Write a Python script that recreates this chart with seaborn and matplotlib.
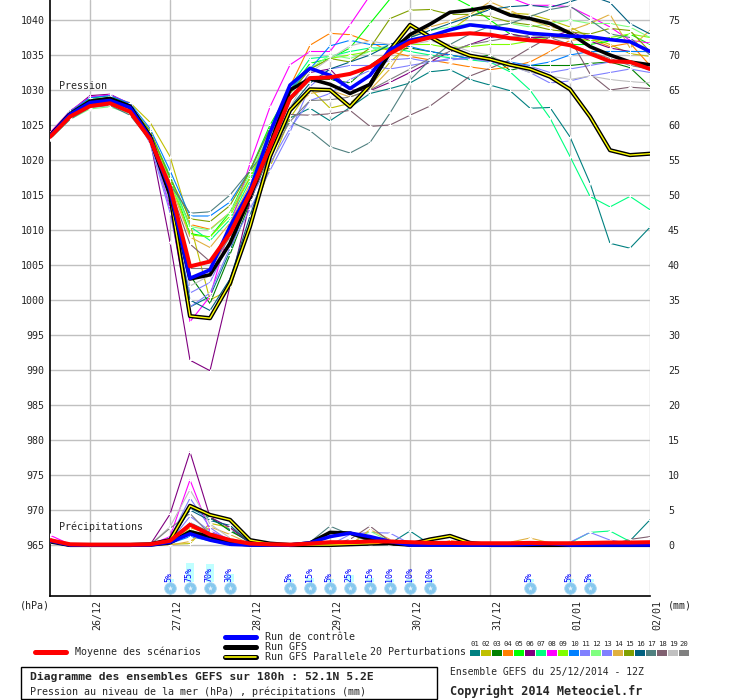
import matplotlib
matplotlib.use("Agg")
import matplotlib.pyplot as plt
import matplotlib.transforms as mtransforms
from matplotlib.lines import Line2D
from matplotlib.patches import Rectangle
import seaborn as sns

# ---------------- data ----------------
hours = list(range(0, 181, 6))  # 31 steps, 25/12 12Z -> 02/01 00Z
day_hours = [12, 36, 60, 84, 108, 132, 156, 180]
day_labels = ["26/12", "27/12", "28/12", "29/12", "30/12", "31/12", "01/01", "02/01"]
pressure_ticks = [965, 970, 975, 980, 985, 990, 995, 1000, 1005, 1010, 1015, 1020,
                  1025, 1030, 1035, 1040]
precip_ticks = [0, 5, 10, 15, 20, 25, 30, 35, 40, 45, 50, 55, 60, 65, 70, 75]

pert_labels = ["01", "02", "03", "04", "05", "06", "07", "08", "09", "10",
               "11", "12", "13", "14", "15", "16", "17", "18", "19", "20"]
pert_colors = ["#008080", "#C0C000", "#008000", "#FF8000", "#00FF00", "#800080",
               "#00FF80", "#FF00FF", "#80FF00", "#0080FF", "#8080FF", "#80FF80",
               "#8080FF", "#E0B040", "#80A000", "#006080", "#508080", "#806070",
               "#C0C0C0", "#808080"]

# pressure (hPa)
mean_p = [1023.3, 1026.2, 1027.7, 1028.1, 1026.9, 1023.0, 1016.2, 1004.8, 1005.5, 1009.5,
          1015.2, 1021.9, 1028.8, 1031.7, 1031.8, 1032.3, 1033.3, 1035.2, 1036.8, 1037.5,
          1037.9, 1038.1, 1037.9, 1037.4, 1037.1, 1036.9, 1036.4, 1035.2, 1034.1, 1034.0, 1033.0]
ctrl_p = [1023.4, 1026.5, 1028.2, 1028.5, 1027.5, 1023.2, 1015.7, 1003.1, 1004.3, 1010.5,
          1015.7, 1023.9, 1030.7, 1033.1, 1032.1, 1030.2, 1032.1, 1035.8, 1037.1, 1037.7,
          1038.6, 1039.3, 1039.0, 1038.6, 1038.1, 1037.9, 1037.7, 1037.6, 1037.2, 1036.9, 1035.5]
gfs_p = [1023.5, 1026.6, 1028.4, 1028.8, 1027.7, 1023.2, 1015.2, 1003.0, 1003.6, 1008.1,
         1014.7, 1022.2, 1030.0, 1031.6, 1030.8, 1029.5, 1030.8, 1035.3, 1037.9, 1039.4,
         1041.1, 1041.4, 1041.9, 1040.7, 1040.2, 1039.5, 1038.1, 1036.2, 1035.0, 1034.0, 1033.6]
gfsp_p = [1023.4, 1026.4, 1028.2, 1028.6, 1027.6, 1023.4, 1015.0, 997.7, 997.4, 1002.4,
          1010.5, 1020.5, 1027.1, 1030.1, 1030.0, 1027.6, 1030.7, 1035.7, 1039.3, 1037.6,
          1036.0, 1034.9, 1034.4, 1033.6, 1033.0, 1031.9, 1030.1, 1026.2, 1021.4, 1020.7, 1020.9]

p01 = [1023.6, 1026.8, 1028.6, 1028.9, 1027.8, 1023.8, 1016.0, 999.0, 1000.5, 1007.0,
       1015.0, 1021.0, 1026.0, 1027.4, 1025.6, 1027.5, 1029.5, 1030.2, 1031.0, 1032.6,
       1032.9, 1031.5, 1030.7, 1029.9, 1027.4, 1027.5, 1023.3, 1016.7, 1008.1, 1007.4, 1010.4]
p02 = [1023.4, 1026.6, 1028.5, 1028.9, 1028.2, 1025.4, 1020.5, 1011.0, 1000.0, 1001.5,
       1011.0, 1019.0, 1026.0, 1030.2, 1027.4, 1028.1, 1030.5, 1034.0, 1036.5, 1037.5,
       1038.5, 1040.5, 1041.8, 1041.0, 1040.8, 1040.0, 1039.0, 1037.5, 1036.5, 1035.2, 1034.8]
p03 = [1023.5, 1026.7, 1028.5, 1028.8, 1027.6, 1023.0, 1015.0, 1003.5, 999.5, 1006.5,
       1014.0, 1021.0, 1028.5, 1031.5, 1031.5, 1031.0, 1033.5, 1035.5, 1036.0, 1035.5,
       1035.0, 1034.5, 1035.0, 1032.8, 1033.5, 1033.5, 1033.5, 1033.8, 1034.0, 1033.2, 1030.5]
p04 = [1023.3, 1026.4, 1028.2, 1028.5, 1027.4, 1023.6, 1017.0, 1010.8, 1010.1, 1012.5,
       1017.5, 1023.0, 1030.5, 1036.4, 1038.1, 1037.9, 1036.9, 1035.5, 1034.8, 1034.3,
       1033.8, 1033.3, 1032.9, 1033.3, 1034.0, 1035.5, 1037.1, 1037.3, 1036.2, 1036.7, 1033.5]
p05 = [1023.8, 1027.0, 1028.8, 1029.2, 1028.0, 1023.8, 1017.5, 1009.5, 1009.0, 1012.5,
       1018.5, 1025.0, 1030.0, 1033.8, 1034.5, 1036.0, 1039.5, 1043.0, 1044.5, 1044.0,
       1043.5, 1042.0, 1040.0, 1038.0, 1037.5, 1037.0, 1036.5, 1036.5, 1037.0, 1038.0, 1036.5]
p06 = [1023.5, 1026.9, 1029.2, 1029.4, 1028.0, 1023.0, 1008.3, 991.4, 989.9, 1002.0,
       1014.0, 1021.5, 1028.5, 1032.5, 1033.0, 1030.0, 1029.9, 1031.1, 1032.5, 1034.0,
       1035.5, 1036.5, 1037.5, 1038.0, 1037.5, 1037.5, 1038.5, 1037.0, 1036.0, 1035.5, 1035.5]
p07 = [1023.6, 1026.8, 1028.6, 1028.9, 1027.9, 1024.0, 1017.8, 1010.5, 1008.5, 1011.5,
       1017.0, 1023.5, 1030.5, 1034.5, 1034.8, 1035.5, 1036.0, 1036.0, 1035.5, 1035.0,
       1034.6, 1034.3, 1034.0, 1032.6, 1030.0, 1026.0, 1020.5, 1014.8, 1013.3, 1014.8, 1012.9]
p08 = [1023.9, 1027.0, 1029.0, 1029.3, 1028.1, 1023.2, 1013.0, 996.9, 1000.5, 1010.5,
       1019.5, 1027.6, 1033.6, 1035.5, 1035.5, 1039.3, 1043.5, 1046.0, 1048.0, 1049.0,
       1048.0, 1046.0, 1044.5, 1043.2, 1042.1, 1042.1, 1041.9, 1040.5, 1039.0, 1037.1, 1036.7]
p09 = [1023.5, 1026.6, 1028.4, 1028.7, 1027.7, 1023.9, 1017.0, 1009.3, 1009.0, 1012.0,
       1017.5, 1024.0, 1030.0, 1033.0, 1034.5, 1035.0, 1035.5, 1036.0, 1036.5, 1036.5,
       1036.0, 1036.2, 1036.5, 1036.5, 1037.0, 1037.5, 1037.5, 1037.0, 1037.5, 1038.0, 1037.5]
p10 = [1023.7, 1026.9, 1028.9, 1029.2, 1028.1, 1024.5, 1018.5, 1012.0, 1012.0, 1014.0,
       1018.5, 1024.5, 1030.0, 1033.0, 1036.3, 1037.1, 1036.5, 1036.5, 1036.2, 1035.5,
       1035.0, 1034.5, 1034.3, 1034.0, 1033.5, 1034.0, 1035.0, 1035.5, 1035.5, 1035.5, 1035.5]
p11 = [1023.2, 1026.3, 1028.0, 1028.3, 1027.0, 1022.6, 1013.5, 1001.0, 1002.5, 1008.5,
       1014.5, 1019.5, 1024.5, 1028.5, 1029.5, 1031.5, 1032.8, 1034.3, 1034.5, 1034.0,
       1034.3, 1034.5, 1034.3, 1033.8, 1033.4, 1032.5, 1033.0, 1033.5, 1034.0, 1034.0, 1032.8]
p12 = [1023.0, 1025.8, 1027.3, 1027.6, 1026.6, 1023.5, 1017.0, 1010.5, 1010.0, 1012.5,
       1018.0, 1024.0, 1029.5, 1033.0, 1035.0, 1034.5, 1035.5, 1036.5, 1037.5, 1038.5,
       1039.0, 1039.5, 1039.0, 1039.5, 1039.0, 1039.5, 1040.0, 1039.5, 1039.5, 1039.0, 1037.5]
p13 = [1023.4, 1026.5, 1028.6, 1028.9, 1027.4, 1022.4, 1012.5, 999.0, 1001.0, 1007.5,
       1013.0, 1018.5, 1024.0, 1030.5, 1033.0, 1033.5, 1033.5, 1033.0, 1033.5, 1034.0,
       1034.5, 1034.5, 1034.0, 1033.5, 1032.5, 1031.0, 1031.3, 1032.0, 1032.5, 1033.0, 1032.5]
p14 = [1023.3, 1026.4, 1028.3, 1028.7, 1027.7, 1023.7, 1016.5, 1009.0, 1007.5, 1011.0,
       1016.5, 1021.5, 1027.0, 1029.5, 1030.0, 1029.0, 1030.0, 1033.0, 1037.5, 1039.0,
       1039.8, 1040.8, 1042.6, 1041.4, 1040.0, 1039.0, 1038.5, 1039.5, 1040.8, 1036.0, 1038.5]
p15 = [1023.6, 1026.8, 1028.6, 1028.8, 1027.8, 1024.2, 1017.5, 1011.6, 1011.2, 1013.5,
       1018.5, 1024.5, 1029.5, 1033.0, 1034.5, 1034.0, 1036.0, 1040.2, 1041.4, 1041.5,
       1040.8, 1040.8, 1040.5, 1039.7, 1039.3, 1038.6, 1038.3, 1038.0, 1038.8, 1038.5, 1035.5]
p16 = [1023.4, 1026.6, 1028.4, 1028.8, 1027.6, 1023.4, 1015.0, 1000.0, 998.5, 1003.0,
       1012.0, 1020.5, 1027.5, 1031.0, 1033.0, 1034.0, 1035.0, 1036.5, 1037.5, 1038.5,
       1039.5, 1040.5, 1041.5, 1041.9, 1042.1, 1041.8, 1042.6, 1043.5, 1042.5, 1039.5, 1038.0]
p17 = [1023.0, 1025.8, 1027.5, 1027.8, 1026.4, 1022.8, 1016.5, 1012.4, 1012.6, 1015.0,
       1018.5, 1022.0, 1025.5, 1024.2, 1021.9, 1021.0, 1022.5, 1026.7, 1031.4, 1034.3,
       1036.5, 1038.0, 1039.1, 1039.5, 1040.5, 1041.5, 1042.0, 1040.0, 1038.0, 1037.5, 1035.0]
p18 = [1023.4, 1026.5, 1028.2, 1028.5, 1027.3, 1023.5, 1016.0, 1008.0, 1005.5, 1009.5,
       1015.5, 1021.5, 1026.5, 1026.4, 1026.6, 1027.1, 1024.8, 1025.0, 1026.4, 1027.7,
       1029.8, 1032.0, 1033.1, 1034.3, 1036.0, 1037.6, 1037.3, 1032.3, 1030.0, 1030.4, 1030.2]
p19 = [1023.3, 1026.2, 1027.8, 1028.0, 1026.9, 1022.8, 1014.5, 1002.0, 1003.5, 1009.5,
       1015.0, 1021.5, 1027.5, 1032.5, 1034.5, 1036.3, 1037.0, 1036.5, 1036.5, 1037.0,
       1036.5, 1035.5, 1035.0, 1033.5, 1032.5, 1032.0, 1031.5, 1032.0, 1031.5, 1031.2, 1031.0]
p20 = [1023.2, 1026.0, 1027.6, 1027.9, 1026.7, 1023.0, 1015.5, 1004.5, 1004.5, 1009.0,
       1015.0, 1020.5, 1025.5, 1028.5, 1028.6, 1029.0, 1030.0, 1031.5, 1033.0, 1034.5,
       1035.5, 1036.5, 1037.0, 1037.5, 1037.8, 1037.5, 1036.5, 1035.5, 1034.5, 1033.5, 1033.0]
pert_p = [p01, p02, p03, p04, p05, p06, p07, p08, p09, p10,
          p11, p12, p13, p14, p15, p16, p17, p18, p19, p20]

# precipitation (mm)
mean_r = [0.7, 0.1, 0.05, 0.05, 0.05, 0.1, 0.6, 2.9, 1.5, 0.7, 0.2, 0.1, 0.05, 0.2, 0.4, 0.4,
          0.5, 0.5, 0.4, 0.3, 0.3, 0.25, 0.25, 0.25, 0.3, 0.25, 0.25, 0.3, 0.35, 0.35, 0.4]
ctrl_r = [0.6, 0, 0, 0, 0, 0, 0.4, 1.6, 0.7, 0.1, 0, 0, 0, 0.3, 1.2, 1.7, 1.2, 0.5, 0, 0,
          0, 0, 0, 0, 0.1, 0.2, 0, 0, 0, 0, 0]
gfs_r = [0.6, 0, 0, 0, 0, 0, 0.3, 1.9, 1.2, 0.3, 0, 0, 0, 0.3, 1.8, 1.7, 0.8, 0.2, 0, 0,
         0, 0, 0, 0, 0, 0, 0, 0, 0, 0, 0]
gfsp_r = [0.5, 0, 0, 0, 0, 0.1, 0.7, 5.6, 4.3, 3.6, 0.7, 0.2, 0, 0, 0, 0.1, 0.2, 0.3, 0.1,
          0.8, 1.3, 0.3, 0, 0, 0, 0, 0, 0, 0, 0, 0]
r01 = [0.8, 0, 0, 0, 0, 0, 0.6, 5.3, 3.8, 2.2, 0.3, 0, 0, 0, 0, 0, 0, 0.2, 2.0, 0.1,
       0, 0, 0, 0, 0, 0, 0, 0, 0, 0.6, 3.6]
r02 = [0.7, 0, 0, 0, 0, 0, 0.1, 0.2, 3.1, 2.5, 0.5, 0, 0, 0, 0, 0, 0, 0, 0, 0,
       0, 0, 0, 0, 0, 0, 0, 0, 0, 0, 0]
r03 = [0.9, 0, 0, 0, 0, 0, 0.5, 5.6, 4.0, 2.0, 0.5, 0, 0, 0, 0, 0, 0, 0, 0, 0.3,
       0.3, 0.3, 0, 0, 0, 0, 0, 0, 0, 0, 0]
r04 = [0.6, 0, 0, 0, 0, 0, 0.3, 2.5, 1.5, 0.4, 0, 0, 0, 0, 0, 0, 0, 0, 0, 0,
       0.6, 0.4, 0, 0, 0, 0, 0, 0, 0, 0, 0]
r05 = [0.8, 0, 0, 0, 0, 0, 0.4, 3.0, 1.2, 0.2, 0, 0, 0, 0, 0, 0, 0, 0, 0, 0,
       0, 0, 0, 0, 0, 0, 0, 0, 0, 0, 0]
r06 = [0.7, 0, 0, 0, 0, 0, 4.4, 13.3, 4.0, 2.5, 0.3, 0, 0, 0, 0, 0, 0, 0, 0, 0,
       0, 0, 0, 0, 0, 0, 0, 0, 0, 0, 0]
r07 = [0.6, 0, 0, 0, 0, 0, 0.2, 2.0, 1.0, 0.2, 0, 0, 0, 0, 0, 0, 0, 0, 0, 0,
       0, 0, 0, 0, 0, 0, 0.3, 1.8, 2.0, 0.5, 0]
r08 = [1.4, 0.1, 0, 0, 0, 0, 1.2, 9.3, 2.0, 0.8, 0, 0, 0, 0, 0, 0, 0, 0, 0, 0,
       0, 0, 0, 0, 0, 0, 0, 0, 0, 0, 0]
r09 = [0.6, 0, 0, 0, 0, 0, 0.3, 2.2, 1.0, 0.2, 0, 0, 0, 0, 0, 0, 0, 0, 0, 0,
       0, 0, 0, 0, 0, 0, 0, 0, 0, 0, 0]
r10 = [0.5, 0, 0, 0, 0, 0, 0.2, 1.2, 0.6, 0, 0, 0, 0, 0, 0, 0, 0, 0, 0, 0,
       0, 0, 0, 0, 0, 0, 0, 0, 0, 0, 0]
r11 = [0.6, 0, 0, 0, 0, 0, 1.0, 6.7, 2.5, 0.5, 0, 0, 0, 0, 0, 1.5, 1.8, 1.7, 0.2, 0,
       0, 0, 0, 0, 0, 0, 0.4, 1.8, 0.7, 0.2, 0]
r12 = [0.6, 0, 0, 0, 0, 0, 0.3, 1.5, 0.7, 0, 0, 0, 0, 0, 0, 0, 2.0, 0.5, 0, 0,
       0, 0, 0, 0, 0, 0, 0, 0, 0, 0, 0]
r13 = [0.5, 0, 0, 0, 0, 0, 0.5, 4.1, 2.0, 0.6, 0, 0, 0, 0, 0, 0, 0, 0, 0, 0,
       0, 0, 0, 0, 0, 0, 0, 0, 0, 0, 0]
r14 = [0.6, 0, 0, 0, 0, 0, 0, 0.5, 2.6, 1.5, 0.2, 0, 0, 0, 0, 0, 2.2, 0.8, 0, 0,
       0, 0, 0, 0.4, 1.0, 0.3, 0, 0, 0, 0, 0]
r15 = [0.7, 0, 0, 0, 0, 0, 0.4, 2.8, 1.8, 0.3, 0, 0, 0, 0, 0, 0, 0, 0, 0, 0,
       0, 0, 0, 0, 0, 0, 0, 0, 0, 0, 0]
r16 = [0.7, 0, 0, 0, 0, 0, 0.6, 5.0, 3.5, 2.8, 0.3, 0, 0, 0, 0, 0, 0, 0, 0, 0,
       0, 0, 0, 0, 0, 0, 0, 0, 0, 0, 0]
r17 = [0.8, 0, 0, 0, 0, 0, 0.5, 3.2, 1.8, 0.5, 0, 0, 0, 0.4, 2.7, 1.5, 0.5, 0, 0, 0,
       0, 0, 0, 0, 0, 0, 0, 0, 0, 0, 0]
r18 = [0.7, 0, 0, 0, 0, 0, 0.3, 2.0, 1.0, 0.2, 0, 0, 0, 0, 0, 0.8, 2.7, 0.5, 0, 0,
       0, 0, 0, 0, 0, 0, 0, 0, 0, 0.8, 1.2]
r19 = [0.6, 0, 0, 0, 0, 0, 2.6, 7.9, 3.0, 1.0, 0, 0, 0, 0, 0, 0, 0, 0, 0, 0,
       0, 0, 0, 0, 0, 0, 0, 0, 0, 0, 0]
r20 = [0.7, 0, 0, 0, 0, 0, 2.4, 4.5, 1.5, 0.3, 0, 0, 0, 0, 0, 0, 0, 0, 0, 0,
       0, 0, 0, 0, 0, 0, 0, 0, 0, 0, 0]
pert_r = [r01, r02, r03, r04, r05, r06, r07, r08, r09, r10,
          r11, r12, r13, r14, r15, r16, r17, r18, r19, r20]

# snow probability markers
snow_hours = [36, 42, 48, 54, 72, 78, 84, 90, 96, 102, 108, 114, 144, 156, 162]
snow_pct = [5, 75, 70, 30, 5, 15, 5, 25, 15, 10, 10, 10, 5, 5, 5]

# ---------------- figure ----------------
sns.set_style("white")
plt.rcParams["font.family"] = ["DejaVu Sans Mono"]
plt.rcParams["font.size"] = 7.2

W, H = 740, 700
fig = plt.figure(figsize=(W / 100, H / 100), dpi=100)
fig.patch.set_facecolor("white")


def fx(px):
    return px / W


def fy(py):
    return 1 - py / H


P_TOP, P_BOT = 1040 + 20 / 7, 965 - 51 / 7
ax = fig.add_axes([fx(50), fy(596), fx(650) - fx(50), fy(0) - fy(596)])
ax.set_xlim(0, 180)
ax.set_ylim(P_BOT, P_TOP)
ax.set_facecolor("white")
ax.set_xticks(day_hours)
ax.set_xticklabels([])
ax.set_yticks(pressure_ticks)
ax.set_yticklabels([str(v) for v in pressure_ticks])
ax.grid(True, color="#C0C0C0", lw=1.0)
ax.set_axisbelow(True)
ax.tick_params(axis="both", length=0)
ax.tick_params(axis="y", pad=4, labelsize=7.2)
for s in ["top", "right"]:
    ax.spines[s].set_visible(False)
for s in ["left", "bottom"]:
    ax.spines[s].set_color("black")
    ax.spines[s].set_linewidth(1.2)

ax2 = ax.twinx()
ax2.set_ylim(P_BOT - 965, P_TOP - 965)
ax2.set_yticks(precip_ticks)
ax2.set_yticklabels([str(v) for v in precip_ticks])
ax2.tick_params(axis="y", length=0, pad=13, labelsize=7.2)
for s in ax2.spines.values():
    s.set_visible(False)
ax2.grid(False)

thin = dict(linewidth=0.8, linestyle="-", marker="+", markersize=3,
            markeredgewidth=0.7)

# perturbations
for vals, col in zip(pert_p, pert_colors):
    sns.lineplot(x=hours, y=vals, ax=ax, color=col, zorder=3, **thin)
for vals, col in zip(pert_r, pert_colors):
    sns.lineplot(x=hours, y=vals, ax=ax2, color=col, zorder=3, **thin)

# main runs - pressure
sns.lineplot(x=hours, y=gfsp_p, ax=ax, color="black", linewidth=3.0, zorder=4)
sns.lineplot(x=hours, y=gfsp_p, ax=ax, color="#FFFF00", linewidth=1.0, zorder=4.1)
sns.lineplot(x=hours, y=gfs_p, ax=ax, color="black", linewidth=2.6, zorder=4.2)
sns.lineplot(x=hours, y=ctrl_p, ax=ax, color="#0000FF", linewidth=2.6, zorder=4.3)
sns.lineplot(x=hours, y=mean_p, ax=ax, color="#FF0000", linewidth=2.9, zorder=4.4)

# main runs - precipitation
sns.lineplot(x=hours, y=gfsp_r, ax=ax2, color="black", linewidth=3.0, zorder=4)
sns.lineplot(x=hours, y=gfsp_r, ax=ax2, color="#FFFF00", linewidth=1.0, zorder=4.1)
sns.lineplot(x=hours, y=gfs_r, ax=ax2, color="black", linewidth=2.6, zorder=4.2)
sns.lineplot(x=hours, y=ctrl_r, ax=ax2, color="#0000FF", linewidth=2.6, zorder=4.3)
sns.lineplot(x=hours, y=mean_r, ax=ax2, color="#FF0000", linewidth=2.9, zorder=4.4)

for a in (ax, ax2):
    leg = a.get_legend()
    if leg is not None:
        leg.remove()
    a.set_xlabel("")
    a.set_ylabel("")

# snow icons & probabilities
icon_y = 965 - 43 / 7
txt_y = 965 - 36.5 / 7
for h, pct in zip(snow_hours, snow_pct):
    bh = max(pct * 0.25, 2.5) / 7
    ax.add_patch(Rectangle((h - 1.3, txt_y), 2.6, bh, facecolor="#C0FFFF",
                           edgecolor="none", zorder=5))
    ax.text(h - 0.2, txt_y, f"{pct}%", rotation=90, ha="center", va="bottom",
            color="#0000FF", fontsize=6.0, zorder=6)
ax.scatter(snow_hours, [icon_y] * len(snow_hours), s=70, color="#86C8EE",
           edgecolor="#A8D8F4", linewidth=0.6, zorder=6)
ax.scatter(snow_hours, [icon_y] * len(snow_hours), s=16, marker="*",
           color="#E6F4FC", linewidth=0, zorder=7)

# date labels (rotated)
trans = mtransforms.blended_transform_factory(ax.transData, ax.transAxes)
trans = mtransforms.offset_copy(trans, fig=fig, x=2, y=-4, units="dots")
for h, lab in zip(day_hours, day_labels):
    ax.text(h, 0, lab, transform=trans, rotation=90, ha="left", va="top",
            fontsize=7.2, clip_on=False)

# texts around the plot
fig.text(fx(59), fy(86), "Pression", va="center", ha="left", fontsize=7.2)
fig.text(fx(59), fy(527), "Précipitations", va="center", ha="left", fontsize=7.2)
fig.text(fx(20), fy(606), "(hPa)", va="center", ha="left", fontsize=7.2)
fig.text(fx(668), fy(606), "(mm)", va="center", ha="left", fontsize=7.2)

# legend
fig.add_artist(Line2D([fx(35), fx(66)], [fy(652), fy(652)], color="#FF0000", lw=3.6))
fig.text(fx(75), fy(652), "Moyenne des scénarios", va="center", ha="left", fontsize=7.2)
fig.add_artist(Line2D([fx(225), fx(256)], [fy(637), fy(637)], color="#0000FF", lw=3.6))
fig.add_artist(Line2D([fx(225), fx(256)], [fy(647), fy(647)], color="black", lw=3.6))
fig.add_artist(Line2D([fx(225), fx(256)], [fy(657), fy(657)], color="black", lw=3.6))
fig.add_artist(Line2D([fx(225), fx(256)], [fy(657), fy(657)], color="#FFFF00", lw=1.2))
fig.text(fx(265), fy(637), "Run de contrôle", va="center", ha="left", fontsize=7.2)
fig.text(fx(265), fy(647), "Run GFS", va="center", ha="left", fontsize=7.2)
fig.text(fx(265), fy(657), "Run GFS Parallele", va="center", ha="left", fontsize=7.2)
fig.text(fx(370), fy(652), "20 Perturbations", va="center", ha="left", fontsize=7.2)
for k, (lab, col) in enumerate(zip(pert_labels, pert_colors)):
    x0 = 470 + 11 * k
    fig.add_artist(Rectangle((fx(x0), fy(656)), fx(10), 6 / H, facecolor=col,
                             edgecolor="none", transform=fig.transFigure))
    fig.text(fx(x0 + 5), fy(644), lab, va="center", ha="center", fontsize=5.2)

# bottom info box
fig.add_artist(Rectangle((fx(21), fy(699)), fx(416), 32 / H, facecolor="none",
                         edgecolor="black", lw=1.0, transform=fig.transFigure))
fig.text(fx(30), fy(677), "Diagramme des ensembles GEFS sur 180h : 52.1N 5.2E",
         va="center", ha="left", fontsize=8.2, fontweight="bold")
fig.text(fx(30), fy(692), "Pression au niveau de la mer (hPa) , précipitations (mm)",
         va="center", ha="left", fontsize=7.2)
fig.text(fx(450), fy(672), "Ensemble GEFS du 25/12/2014 - 12Z", va="center",
         ha="left", fontsize=7.0)
fig.text(fx(450), fy(691), "Copyright 2014 Meteociel.fr", va="center", ha="left",
         fontsize=8.6, fontweight="bold")

fig.savefig("out.png", dpi=100, facecolor="white")
